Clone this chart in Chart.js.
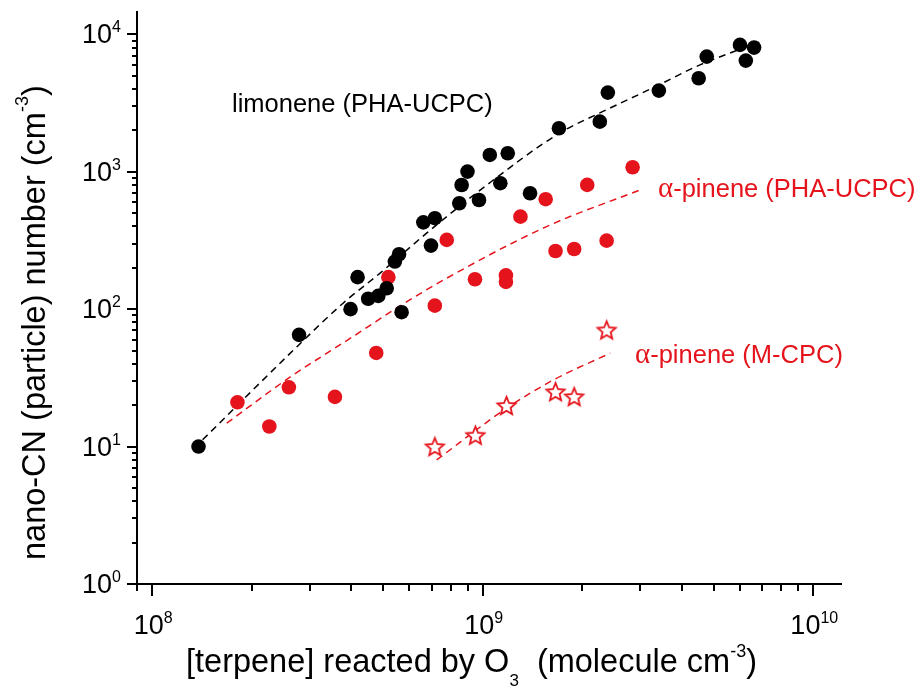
<!DOCTYPE html>
<html>
<head>
<meta charset="utf-8">
<script src="https://cdn.jsdelivr.net/npm/chart.js@4.4.1/dist/chart.umd.min.js"></script>
<style>
  html, body { margin: 0; padding: 0; background: #fff; }
  canvas { display: block; }
</style>
</head>
<body>
<canvas id="chart" width="920" height="695"></canvas>
<script>
// limonene, measured with the PHA-UCPC
const limoneneX = [1.38e8, 2.78e8, 3.98e8, 4.18e8, 4.50e8, 4.83e8, 5.12e8, 5.42e8, 5.58e8, 5.68e8,
                   6.61e8, 6.97e8, 7.16e8, 8.49e8, 8.63e8, 8.99e8, 9.74e8, 1.05e9, 1.13e9, 1.19e9,
                   1.39e9, 1.70e9, 2.26e9, 2.39e9, 3.41e9, 4.50e9, 4.76e9, 6.00e9, 6.25e9, 6.62e9];
const limoneneY = [10, 65, 100, 171, 119, 125, 142, 222, 251, 95,
                   428, 290, 459, 590, 801, 1002, 623, 1325, 825, 1363,
                   697, 2073, 2315, 3766, 3893, 4787, 6882, 8370, 6437, 8000];

// alpha-pinene, measured with the PHA-UCPC
const pinenePhaX = [1.81e8, 2.26e8, 2.59e8, 3.57e8, 4.76e8, 5.18e8, 7.16e8, 7.78e8, 9.47e8,
                    1.175e9, 1.175e9, 1.30e9, 1.55e9, 1.66e9, 1.89e9, 2.07e9, 2.37e9, 2.84e9];
const pinenePhaY = [21, 14, 27, 23, 48, 171, 106, 319, 165,
                    176, 158, 471, 631, 265, 274, 802, 315, 1078];

// alpha-pinene, measured with the M-CPC
const pineneMcpcX = [7.16e8, 9.5e8, 1.18e9, 1.66e9, 1.89e9, 2.37e9];
const pineneMcpcY = [10, 12.1, 19.9, 25.1, 23.1, 70.6];

// dashed trend curves
const limoneneFitX = [1.42e8, 2.74e8, 3.77e8, 4.89e8, 6.76e8, 1.0e9, 1.71e9, 2.26e9, 3.27e9, 4.54e9, 6.9e9];
const limoneneFitY = [11.2, 53.3, 110, 183, 357, 760, 1916, 2678, 4074, 5986, 8810];
const pinenePhaFitX = [1.68e8, 2.61e8, 4.0e8, 5.6e8, 7.78e8, 1.56e9, 2.99e9];
const pinenePhaFitY = [14.8, 32, 62, 105, 168, 399, 737];
const pineneMcpcFitX = [7.25e8, 1.18e9, 1.634e9, 2.43e9];
const pineneMcpcFitY = [8.0, 19.0, 30.5, 47.8];

// axis decades and minor tick multipliers
const xDecades = [8, 9, 10];
const yDecades = [0, 1, 2, 3, 4];
const minorSteps = [2, 3, 4, 5, 6, 7, 8, 9];

// curve labels
const limoneneLabel = 'limonene (PHA-UCPC)';
const pinenePhaLabel = '-pinene (PHA-UCPC)';
const pineneMcpcLabel = '-pinene (M-CPC)';
const alpha = 'α';

// axis titles
const xTitleParts = ['[terpene] reacted by O', '3', '  (molecule cm', '-3', ')'];
const yTitleParts = ['nano-CN (particle) number (cm', '-3', ')'];

const SANS = "'Liberation Sans', Arial, Helvetica, sans-serif";
const SERIF = "'Liberation Serif', 'Times New Roman', serif";
const RED = '#e5141c';

const toPoints = (xs, ys) => xs.map((x, i) => ({ x, y: ys[i] }));

function starImage(r, color) {
  const c = document.createElement('canvas');
  const s = Math.ceil(2 * r + 6);
  c.width = s; c.height = s;
  const g = c.getContext('2d');
  g.translate(s / 2, s / 2 + r * 0.1);
  g.beginPath();
  for (let i = 0; i < 10; i++) {
    const rad = i % 2 === 0 ? r : r * 0.45;
    const a = -Math.PI / 2 + i * Math.PI / 5;
    g.lineTo(rad * Math.cos(a), rad * Math.sin(a));
  }
  g.closePath();
  g.fillStyle = '#fff';
  g.fill();
  g.lineWidth = 1.8;
  g.strokeStyle = color;
  g.stroke();
  return c;
}

// draws a run of text pieces: {t, size, dy, font}
function drawRuns(ctx, runs, x, y) {
  let cx = x;
  for (const r of runs) {
    ctx.font = `${r.size}px ${r.font || SANS}`;
    ctx.fillText(r.t, cx, y + (r.dy || 0));
    cx += ctx.measureText(r.t).width;
  }
  return cx - x;
}
function runsWidth(ctx, runs) {
  let w = 0;
  for (const r of runs) {
    ctx.font = `${r.size}px ${r.font || SANS}`;
    w += ctx.measureText(r.t).width;
  }
  return w;
}
function powerRuns(exp) {
  return [{ t: '10', size: 27 }, { t: String(exp), size: 16, dy: -11 }];
}

const axisDecor = {
  id: 'axisDecor',
  afterDraw(chart) {
    const { ctx, chartArea: area, scales: { x, y } } = chart;
    ctx.save();
    ctx.strokeStyle = '#000';
    ctx.fillStyle = '#000';
    ctx.lineWidth = 2;
    ctx.textAlign = 'left';
    ctx.textBaseline = 'alphabetic';

    // tick marks
    const inRange = (s, v) => v >= s.min * 0.999 && v <= s.max * 1.001;
    const xTicks = [], yTicks = [];
    const xd = [xDecades[0] - 1, ...xDecades];
    const yd = [yDecades[0] - 1, ...yDecades];
    for (const d of xd) {
      xTicks.push({ v: Math.pow(10, d), major: true });
      for (const m of minorSteps) xTicks.push({ v: m * Math.pow(10, d), major: false });
    }
    for (const d of yd) {
      yTicks.push({ v: Math.pow(10, d), major: true });
      for (const m of minorSteps) yTicks.push({ v: m * Math.pow(10, d), major: false });
    }
    ctx.beginPath();
    for (const t of xTicks) {
      if (!inRange(x, t.v)) continue;
      const px = Math.round(x.getPixelForValue(t.v));
      ctx.moveTo(px, area.bottom);
      ctx.lineTo(px, area.bottom + (t.major ? 12 : 7));
    }
    for (const t of yTicks) {
      if (!inRange(y, t.v)) continue;
      const py = Math.round(y.getPixelForValue(t.v));
      ctx.moveTo(area.left, py);
      ctx.lineTo(area.left - (t.major ? 10 : 5), py);
    }
    ctx.stroke();

    // decade labels
    for (const d of xDecades) {
      const px = x.getPixelForValue(Math.pow(10, d));
      const runs = powerRuns(d);
      const w = runsWidth(ctx, runs);
      drawRuns(ctx, runs, px - w / 2 + 1, 634);
    }
    for (const d of yDecades) {
      const py = y.getPixelForValue(Math.pow(10, d));
      const runs = powerRuns(d);
      const w = runsWidth(ctx, runs);
      drawRuns(ctx, runs, 121 - w, py + 9);
    }

    // x title
    drawRuns(ctx, [
      { t: xTitleParts[0], size: 32.5 },
      { t: xTitleParts[1], size: 17, dy: 14 },
      { t: xTitleParts[2], size: 32.5 },
      { t: xTitleParts[3], size: 18, dy: -15 },
      { t: xTitleParts[4], size: 32.5 }
    ], 186, 672);

    // y title
    ctx.save();
    ctx.translate(45, 560);
    ctx.rotate(-Math.PI / 2);
    drawRuns(ctx, [
      { t: yTitleParts[0], size: 32.5 },
      { t: yTitleParts[1], size: 18, dy: -17 },
      { t: yTitleParts[2], size: 32.5 }
    ], 0, 0);
    ctx.restore();

    // curve labels
    ctx.fillStyle = '#000';
    drawRuns(ctx, [{ t: limoneneLabel, size: 25.5 }], 232, 112);
    ctx.fillStyle = RED;
    drawRuns(ctx, [{ t: alpha, size: 29, font: SERIF }, { t: pinenePhaLabel, size: 25.5 }], 658, 197);
    drawRuns(ctx, [{ t: alpha, size: 29, font: SERIF }, { t: pineneMcpcLabel, size: 25.5 }], 635, 363);
    ctx.restore();
  }
};

const star = starImage(9.5, RED);

const dashed = (xs, ys, color) => ({
  type: 'line',
  data: toPoints(xs, ys),
  borderColor: color,
  borderWidth: 1.5,
  borderDash: [7, 5],
  pointRadius: 0,
  fill: false,
  tension: 0.4,
  cubicInterpolationMode: 'monotone',
  order: 5
});

new Chart(document.getElementById('chart'), {
  type: 'scatter',
  data: {
    datasets: [
      dashed(limoneneFitX, limoneneFitY, '#000'),
      dashed(pinenePhaFitX, pinenePhaFitY, RED),
      dashed(pineneMcpcFitX, pineneMcpcFitY, RED),
      {
        label: limoneneLabel,
        data: toPoints(limoneneX, limoneneY),
        pointRadius: 7.3,
        pointBackgroundColor: '#000',
        pointBorderWidth: 0,
        order: 1
      },
      {
        label: alpha + pinenePhaLabel,
        data: toPoints(pinenePhaX, pinenePhaY),
        pointRadius: 7.3,
        pointBackgroundColor: RED,
        pointBorderWidth: 0,
        order: 1
      },
      {
        label: alpha + pineneMcpcLabel,
        data: toPoints(pineneMcpcX, pineneMcpcY),
        pointStyle: star,
        pointRadius: 9.5,
        order: 1
      }
    ]
  },
  options: {
    responsive: false,
    animation: false,
    devicePixelRatio: 1,
    layout: { padding: { top: 12, right: 79, left: 0, bottom: 0 } },
    plugins: { legend: { display: false }, tooltip: { enabled: false } },
    scales: {
      x: {
        type: 'logarithmic',
        min: 8.99e7,
        max: 1.213e10,
        grid: { display: false },
        border: { display: true, color: '#000', width: 2 },
        ticks: { display: false },
        afterFit: s => { s.height = 111; }
      },
      y: {
        type: 'logarithmic',
        min: 1,
        max: 14530,
        grid: { display: false },
        border: { display: true, color: '#000', width: 2 },
        ticks: { display: false },
        afterFit: s => { s.width = 137; }
      }
    }
  },
  plugins: [axisDecor]
});
</script>
</body>
</html>
